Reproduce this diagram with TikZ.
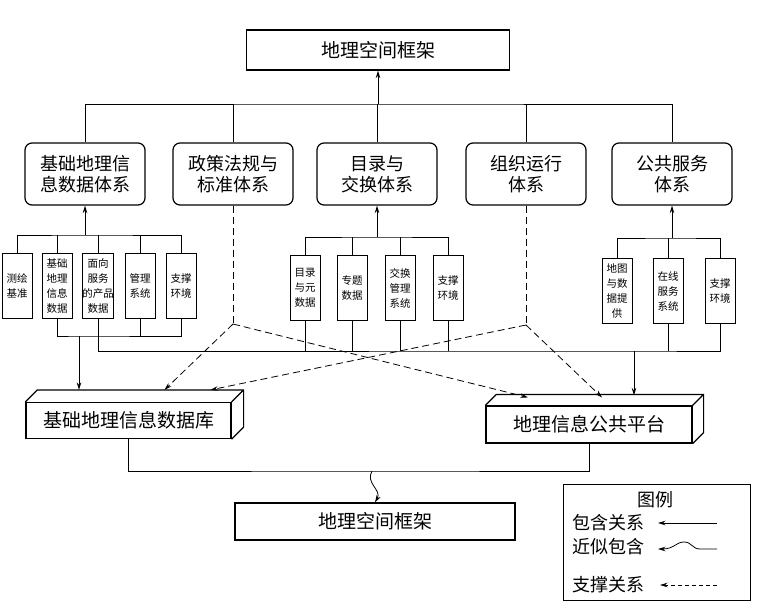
\documentclass[tikz,border=0pt]{standalone}
\usepackage{fontspec}
\setmainfont{Noto Sans CJK SC}
\usetikzlibrary{arrows.meta,calc}
\tikzset{
  sysbox/.style={draw, rounded corners=7pt, line width=1.2pt, minimum width=120pt, minimum height=62pt, align=center, font=\fontsize{18}{21}\selectfont},
  subbox/.style={draw, line width=0.9pt, minimum width=30pt, minimum height=65pt, inner sep=0pt, align=center, font=\fontsize{10.5}{15}\selectfont},
  framebox/.style={draw, line width=1.2pt, minimum height=40pt, font=\fontsize{19}{22}\selectfont},
  slab/.style={draw, line width=1.2pt, minimum width=205pt, minimum height=36pt, font=\fontsize{19}{22}\selectfont},
  legtext/.style={inner sep=0pt, font=\fontsize{18}{21}\selectfont},
  link/.style={line width=0.8pt},
  tip/.style={-{Stealth[length=7.5pt,width=4.5pt]}},
  support/.style={line width=0.8pt, dash pattern=on 7pt off 4pt},
}
\newcommand{\slabfaces}[2]{%
  \draw[line width=1.2pt] (#1.north west) -- ++(#2,-#2) -- ($(#1.north east)+(#2,-#2)$) -- ($(#1.south east)+(#2,-#2)$) -- (#1.south east)
    (#1.north east) -- ++(#2,-#2);}
\begin{document}
\begin{tikzpicture}[x=1pt,y=-1pt]
    \useasboundingbox (0,0) rectangle (758,611);
    % frame on top
    \node[framebox, minimum width=263pt] (frameT) at (378,50) {地理空间框架};
    % the five systems
    \node[sysbox] (sys1) at (85,174) {基础地理信\\息数据体系};
    \node[sysbox] (sys2) at (233,174) {政策法规与\\标准体系};
    \node[sysbox] (sys3) at (377,174) {目录与\\交换体系};
    \node[sysbox] (sys4) at (526,174) {组织运行\\体系};
    \node[sysbox] (sys5) at (672,174) {公共服务\\体系};
    \coordinate (busT) at (378,104);
    \draw[link] (sys1.north) |- (busT) -| (sys5.north);
    \foreach \s in {sys2,sys3,sys4}
        \draw[link] (\s.north) -- (\s.north |- busT);
    \draw[link,tip] (busT) -- (frameT.south);
    % parts of each system
    \foreach \x/\t [count=\i] in {17/{测绘\\基准}, 57/{基础\\地理\\信息\\数据}, 98/{面向\\服务\\的产品\\数据}, 140/{管理\\系统}, 181/{支撑\\环境}}
        \node[subbox] (a\i) at (\x,286) {\t};
    \foreach \x/\t [count=\i] in {305/{目录\\与元\\数据}, 352/{专题\\数据}, 400/{交换\\管理\\系统}, 448/{支撑\\环境}}
        \node[subbox] (b\i) at (\x,288) {\t};
    \foreach \x/\t [count=\i] in {617/{地图\\与数\\据提\\供}, 668/{在线\\服务\\系统}, 720/{支撑\\环境}}
        \node[subbox] (c\i) at (\x,291) {\t};
    \coordinate (busA) at (85,235);
    \draw[link] (a1.north) |- (busA) -| (a5.north);
    \foreach \i in {2,3,4}
        \draw[link] (a\i.north) -- (a\i.north |- busA);
    \draw[link,tip] (busA) -- (sys1.south);
    \coordinate (busB) at (377,237);
    \draw[link] (b1.north) |- (busB) -| (b4.north);
    \foreach \i in {2,3}
        \draw[link] (b\i.north) -- (b\i.north |- busB);
    \draw[link,tip] (busB) -- (sys3.south);
    \coordinate (busC) at (672,238);
    \draw[link] (c1.north) |- (busC) -| (c3.north);
    \draw[link] (c2.north) -- (c2.north |- busC);
    \draw[link,tip] (busC) -- (sys5.south);
    % database and platform
    \node[slab] (db) at (128.5,420.5) {基础地理信息数据库};
    \slabfaces{db}{12}
    \node[slab, minimum width=206pt, minimum height=37pt] (pf) at (589,424.5) {地理信息公共平台};
    \slabfaces{pf}{11}
    \coordinate (dbT) at ($(db.north)+(0,-12)$);
    \coordinate (pfT) at ($(pf.north)+(0,-10)$);
    \coordinate (busA2) at (79,336);
    \draw[link] (a2.south) |- (busA2) -| (a5.south);
    \draw[link] (a4.south) -- (a4.south |- busA2);
    \draw[link,tip] (busA2) -- (busA2 |- dbT);
    \coordinate (busL) at (634,351);
    \draw[link] (a3.south) |- (busL) -| (c3.south);
    \foreach \n in {b1,b2,b3,b4,c2}
        \draw[link] (\n.south) -- (\n.south |- busL);
    \draw[link,tip] (busL) -- (busL |- pfT);
    % support relations
    \coordinate (d1) at (233,324);
    \coordinate (d2) at (526,325);
    \coordinate (dbA) at ($(dbT)+(36,0)$);
    \coordinate (dbB) at ($(dbT)+(82,0)$);
    \coordinate (pfA) at ($(pfT)+(-61,2)$);
    \coordinate (pfB) at ($(pfT)+(13,2)$);
    \draw[support] (sys2.south) -- (d1);
    \draw[support] (sys4.south) -- (d2);
    \draw[support,tip] (d1) -- (dbA);
    \draw[support,tip] (d1) -- (pfA);
    \draw[support,tip] (d2) -- (dbB);
    \draw[support,tip] (d2) -- (pfB);
    % frame at the bottom
    \node[framebox, minimum width=280pt, minimum height=37pt] (frameB) at (375,521.5) {地理空间框架};
    \coordinate (busD) at (372,471);
    \draw[link] (db.south) |- (busD) -| (pf.south);
    \draw[link,tip] (busD) .. controls (365,483) and (382,490) .. (frameB.north);
    % legend
    \node[draw, line width=0.9pt, minimum width=187pt, minimum height=116pt] (legend) at (656.5,542) {};
    \node[legtext] (lgT) at (655,500) {图例};
    \node[legtext, anchor=west] (lg1) at (572,523) {包含关系};
    \node[legtext, anchor=west] (lg2) at (572,547) {近似包含};
    \node[legtext, anchor=west] (lg3) at (572,585) {支撑关系};
    \coordinate (e1) at (717,523);
    \coordinate (f1) at (658,523);
    \coordinate (e2) at (717,549);
    \coordinate (f2) at (658,549);
    \coordinate (e3) at (717,585);
    \coordinate (f3) at (660,585);
    \draw[link,tip] (e1) -- (f1);
    \draw[link,tip] (e2) -- (700,549) .. controls (692,549) and (692,542) .. (684,542) .. controls (676,542) and (674,549) .. (f2);
    \draw[support,tip,dash pattern=on 4pt off 3pt] (e3) -- (f3);
\end{tikzpicture}
\end{document}
